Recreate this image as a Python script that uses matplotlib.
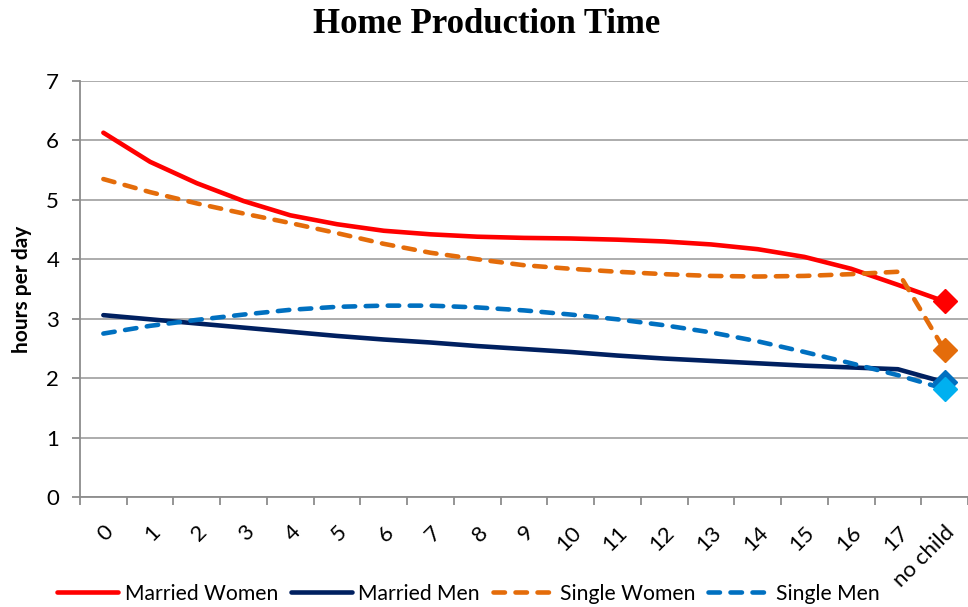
import matplotlib
matplotlib.use("Agg")
import matplotlib.pyplot as plt
import numpy as np

# number of children (age of youngest child), last category = no child
categories = [str(i) for i in range(18)] + ["no child"]

married_women = [6.13, 5.64, 5.28, 4.98, 4.74, 4.59, 4.48, 4.42, 4.38, 4.36,
                 4.35, 4.33, 4.30, 4.25, 4.17, 4.04, 3.84, 3.57, 3.29]
married_men = [3.06, 2.99, 2.92, 2.85, 2.78, 2.71, 2.65, 2.60, 2.54, 2.49,
               2.44, 2.38, 2.33, 2.29, 2.25, 2.21, 2.18, 2.15, 1.93]
single_women = [5.35, 5.13, 4.94, 4.77, 4.61, 4.44, 4.26, 4.11, 4.00, 3.90,
                3.84, 3.79, 3.75, 3.72, 3.71, 3.72, 3.75, 3.79, 2.47]
single_men = [2.75, 2.88, 2.98, 3.07, 3.15, 3.20, 3.22, 3.22, 3.19, 3.14,
              3.07, 2.99, 2.89, 2.77, 2.62, 2.44, 2.25, 2.05, 1.82]

W, H = 968, 607
fig = plt.figure(figsize=(W / 100, H / 100), dpi=100)
ax = fig.add_axes([80 / W, (H - 497) / H, (W - 80) / W, (497 - 81) / H])

x = np.arange(len(categories))
dash = (2.5, 2.3)

series = [
    ("Married Women", married_women, "#FF0000", "-", "#FF0000"),
    ("Married Men", married_men, "#002060", "-", "#0070C0"),
    ("Single Women", single_women, "#E46C0A", "--", "#E46C0A"),
    ("Single Men", single_men, "#0070C0", "--", "#00B0F0"),
]

for name, vals, col, ls, _ in series:
    if ls == "--":
        ax.plot(x, vals, color=col, lw=3.3, linestyle=(0, dash),
                dash_capstyle="round", label=name, zorder=3)
    else:
        ax.plot(x, vals, color=col, lw=3.3, solid_capstyle="round",
                label=name, zorder=3)

# "no child" values shown as diamonds
for name, vals, col, ls, mcol in series:
    ax.plot(x[-1], vals[-1], marker="D", ms=12, color=mcol, ls="none", zorder=4)

ax.set_ylim(0, 7)
ax.set_xlim(-0.5, 18.5 - 5 / 47)
ax.set_yticks(range(8))
ax.grid(axis="y", color="#A6A6A6", lw=1.3)
ax.set_axisbelow(True)

for s in ["top", "right"]:
    ax.spines[s].set_visible(False)
for s in ["left", "bottom"]:
    ax.spines[s].set_color("#8C8C8C")
    ax.spines[s].set_linewidth(1.3)

font = "Lato"
# tick marks on category boundaries, labels on the categories
ax.set_xticks(np.arange(-0.5, 19, 1))
ax.set_xticklabels([])
ax.set_xticks(x, minor=True)
ax.set_xticklabels(categories, minor=True, rotation=45, ha="right",
                   rotation_mode="anchor", fontsize=16, family=font)
ax.tick_params(axis="x", which="major", length=6, color="#8C8C8C", width=1.3)
ax.tick_params(axis="x", which="minor", length=0, pad=18)
ax.tick_params(axis="y", length=6, color="#8C8C8C", width=1.3, pad=9,
               labelsize=16)
for t in ax.get_yticklabels():
    t.set_family(font)

ax.set_ylabel("hours per day", fontsize=15, fontweight="bold", family=font,
              labelpad=10)
fig.text(0.503, 0.96, "Home Production Time", ha="center", va="center",
         fontsize=25, fontweight="bold", family="Liberation Serif")

fig.legend(loc="center", bbox_to_anchor=(0.484, 0.022), ncol=4, frameon=False,
           prop={"family": font, "size": 15.2}, handlelength=2.9,
           columnspacing=0.6, handletextpad=0.3)

fig.savefig("out.png", dpi=100)
